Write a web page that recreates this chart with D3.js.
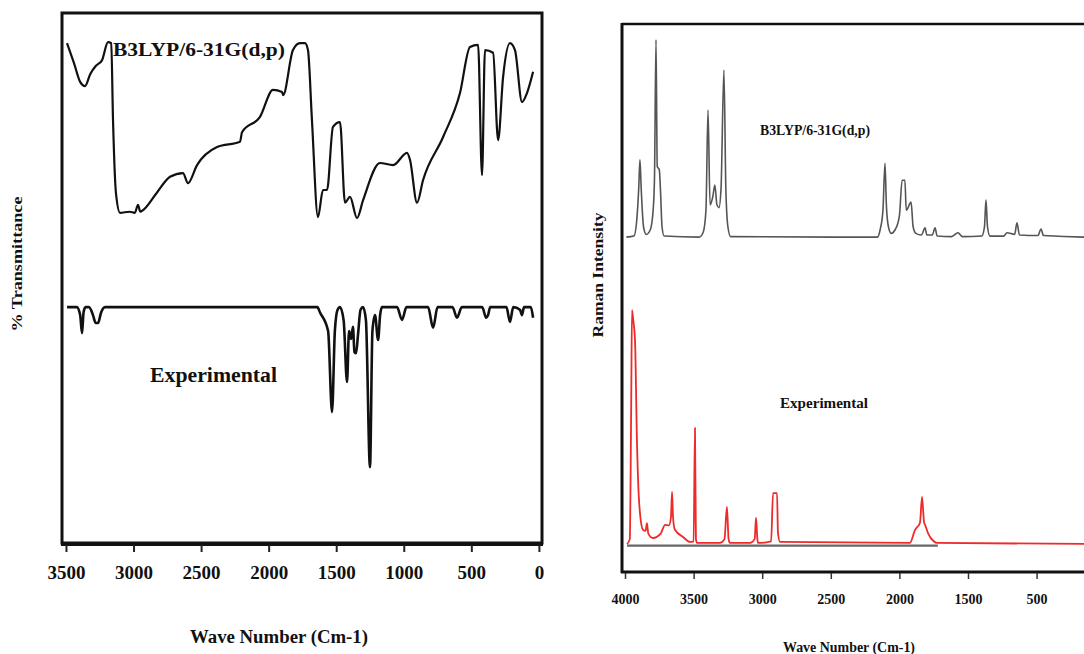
<!DOCTYPE html>
<html><head><meta charset="utf-8">
<script src="https://cdn.jsdelivr.net/npm/d3@7"></script>
<style>body{margin:0;background:#fff}svg{display:block}text{font-family:"Liberation Serif","Times New Roman",serif;font-weight:bold;fill:#111}</style>
</head><body><svg id="c" width="1084" height="654"></svg>
<script>
// ---- Data (wavenumber cm-1, relative value 0-100 of panel height) ----
const irTicks = [3500,3000,2500,2000,1500,1000,500,0];
const irTickLabels = ["3500","3000","2500","2000","1500","1000","500","0"];
const ramanTicks = [4000,3500,3000,2500,2000,1500,1000,500];
const ramanTickLabels = ["4000","3500","3000","2500","2000","1500","500","0"];

const irCalc = [[3492,94.3],[3440,90.5],[3395,87],[3359,86.2],[3320,88.5],[3280,90],[3233,91.1],[3189,94.5],[3165,94.3],[3152,80],[3130,66],[3100,62.3],[3030,62.5],[2990,62.3],[2967,63.8],[2950,62.5],[2930,62.8],[2830,66],[2730,69.1],[2634,69.8],[2597,67.9],[2530,71.3],[2382,74.7],[2212,75.7],[2197,77.5],[2064,80.4],[1968,85.5],[1901,85.1],[1893,84.5],[1820,93.0],[1768,94.3],[1731,94.3],[1709,93.0],[1680,80],[1635,61.5],[1598,66.6],[1568,66.6],[1524,78.5],[1472,79.4],[1435,64.2],[1398,65.3],[1346,61.3],[1301,64.7],[1176,71.7],[1079,71.3],[976,73.6],[954,72.3],[902,64.2],[857,68.5],[709,76.6],[584,84.9],[510,93.6],[450,94.0],[421,69.4],[399,93.0],[339,92.5],[302,76.0],[265,87.9],[214,94.3],[177,93.0],[125,83.2],[88,84.9],[43,88.9]];

const irExp = [[3492,44.5],[3420,44.5],[3395,43],[3381,39.6],[3370,43.5],[3355,44.5],[3330,44.5],[3300,43],[3280,41.5],[3263,41.5],[3240,43.5],[3211,44.5],[1640,44.5],[1620,43.5],[1560,40],[1531,24.7],[1510,40],[1490,44],[1472,44.5],[1445,42],[1420,30.4],[1405,40],[1390,38.5],[1376,40.8],[1365,36],[1353,35.8],[1339,39.2],[1320,44],[1301,44.5],[1280,42],[1250,14.3],[1232,40],[1213,43],[1190,38.3],[1175,43],[1161,44.5],[1050,44.5],[1013,42.1],[980,44.5],[820,44.5],[783,40.6],[750,44.5],[640,44.5],[606,42.5],[570,44.5],[420,44.5],[390,42.5],[376,43],[360,44.5],[240,44.5],[214,41.7],[190,44.5],[140,44],[125,43],[110,44.5],[60,44.5],[43,42.5]];

const ramanCalc = [[3990,61.1],[3935,61.3],[3915,64],[3900,70],[3891,75.2],[3882,70],[3865,63],[3845,61.6],[3815,62.5],[3795,66],[3785,72],[3774,97.1],[3765,74],[3750,73.4],[3742,70],[3730,63],[3715,61.3],[3460,61.1],[3430,62],[3410,66],[3395,84.3],[3380,67],[3360,68.5],[3345,70.6],[3330,67],[3315,66.5],[3300,70],[3279,91.6],[3265,70],[3250,63],[3230,61.2],[2160,61.1],[2140,62.5],[2120,66],[2105,74.6],[2095,67],[2080,63],[2060,61.8],[2030,62.5],[2000,65],[1980,71.5],[1960,71.5],[1950,66],[1915,67.5],[1900,63],[1880,61.8],[1840,61.5],[1813,62.8],[1800,61.5],[1760,61.5],[1740,62.8],[1725,61.3],[1620,61.2],[1573,61.9],[1540,61.2],[1400,61.3],[1380,63],[1369,67.9],[1358,63],[1340,61.3],[1240,61.3],[1216,61.9],[1160,61.6],[1143,63.7],[1125,61.5],[990,61.4],[968,62.6],[950,61.4],[600,61.1],[300,61.1]];

const ramanExpBase = [[3985,4.8],[1720,4.8]];
const ramanExp = [[3985,5.1],[3965,6],[3955,30],[3949,47.8],[3940,46],[3927,42.3],[3913,24.1],[3900,14],[3891,10.8],[3869,7.7],[3850,7.5],[3840,8.9],[3830,7],[3796,6.2],[3740,7],[3708,8.6],[3680,8.5],[3665,10],[3657,14.6],[3650,10],[3636,7.7],[3577,6.4],[3526,5.5],[3500,5.6],[3490,26.3],[3483,6],[3475,5.3],[3308,5.3],[3275,6],[3257,11.9],[3245,6],[3235,5.3],[3089,5.3],[3055,6],[3045,9.9],[3035,6],[3031,5.3],[2935,5.6],[2921,14.4],[2892,14.4],[2885,7.1],[2870,5.5],[1923,5.3],[1886,7.7],[1850,9],[1835,13.7],[1820,9],[1813,8.6],[1790,7],[1750,5.6],[1726,5.3],[500,5.1],[300,5.1]];

// ---- Drawing ----
const svg = d3.select("#c");
svg.append("rect").attr("width",1084).attr("height",654).attr("fill","#fff");

// Left panel (IR)
const L = {x0:62, x1:542, y0:13, y1:543};
const xL = d3.scaleLinear().domain([3522,-23]).range([63,542]);
const yL = d3.scaleLinear().domain([0,100]).range([L.y1, L.y0]);
const lineL = d3.line().x(d=>xL(d[0])).y(d=>yL(d[1])).curve(d3.curveMonotoneX);

svg.append("path").datum(irCalc).attr("d",lineL).attr("fill","none").attr("stroke","#111").attr("stroke-width",2.2).attr("stroke-linejoin","round");
svg.append("path").datum(irExp).attr("d",lineL).attr("fill","none").attr("stroke","#111").attr("stroke-width",2.6).attr("stroke-linejoin","round");

svg.append("rect").attr("x",L.x0).attr("y",L.y0).attr("width",L.x1-L.x0).attr("height",L.y1-L.y0)
  .attr("fill","none").attr("stroke","#111").attr("stroke-width",3);
svg.append("line").attr("x1",L.x0-1).attr("x2",L.x1+1).attr("y1",L.y1+1).attr("y2",L.y1+1).attr("stroke","#111").attr("stroke-width",4);

const axL = svg.append("g").attr("transform",`translate(0,${L.y1+2})`)
  .call(d3.axisBottom(xL).tickValues(irTicks).tickFormat((d,i)=>irTickLabels[i]).tickSize(7).tickPadding(14));
axL.select(".domain").remove();
axL.selectAll(".tick line").attr("stroke","#222").attr("stroke-width",2);
axL.selectAll(".tick text").style("font-size","19px").attr("fill","#111");

svg.append("text").attr("x",113).attr("y",56).style("font-size","19px")
  .attr("textLength",172).attr("lengthAdjust","spacingAndGlyphs").text("B3LYP/6-31G(d,p)");
svg.append("text").attr("x",150).attr("y",382).style("font-size","20px")
  .attr("textLength",127).attr("lengthAdjust","spacingAndGlyphs").text("Experimental");
svg.append("text").attr("x",279).attr("y",643).attr("text-anchor","middle").style("font-size","18px")
  .attr("textLength",178).attr("lengthAdjust","spacingAndGlyphs").text("Wave Number (Cm-1)");
svg.append("text").attr("transform","translate(22,264) rotate(-90)").attr("text-anchor","middle").style("font-size","15px")
  .attr("textLength",135).attr("lengthAdjust","spacingAndGlyphs").text("% Transmittance");

// Right panel (Raman)
const R = {x0:622, x1:1084, y0:24, y1:572};
const xR = d3.scaleLinear().domain([4000,0]).range([625,1173.8]);
const yR = d3.scaleLinear().domain([0,100]).range([R.y1, R.y0]);
const lineR = d3.line().x(d=>xR(d[0])).y(d=>yR(d[1])).curve(d3.curveMonotoneX);

svg.append("path").datum(ramanCalc).attr("d",lineR).attr("fill","none").attr("stroke","#555").attr("stroke-width",1.6).attr("stroke-linejoin","round");
svg.append("path").datum(ramanExpBase).attr("d",lineR).attr("fill","none").attr("stroke","#666").attr("stroke-width",2.2);
svg.append("path").datum(ramanExp).attr("d",lineR).attr("fill","none").attr("stroke","#ee2a2a").attr("stroke-width",1.8).attr("stroke-linejoin","round");

svg.append("line").attr("x1",R.x0).attr("x2",R.x1+5).attr("y1",R.y0).attr("y2",R.y0).attr("stroke","#111").attr("stroke-width",2.5);
svg.append("line").attr("x1",R.x0).attr("x2",R.x0).attr("y1",R.y0-1).attr("y2",R.y1+1).attr("stroke","#111").attr("stroke-width",3);
svg.append("line").attr("x1",R.x0-1).attr("x2",R.x1+5).attr("y1",R.y1).attr("y2",R.y1).attr("stroke","#111").attr("stroke-width",3);

const axR = svg.append("g").attr("transform",`translate(0,${R.y1+1})`)
  .call(d3.axisBottom(xR).tickValues(ramanTicks).tickFormat((d,i)=>ramanTickLabels[i]).tickSize(6).tickPadding(15));
axR.select(".domain").remove();
axR.selectAll(".tick line").attr("stroke","#333").attr("stroke-width",1.5);
axR.selectAll(".tick text").style("font-size","14px").attr("fill","#111");

svg.append("text").attr("x",760).attr("y",135).style("font-size","14px")
  .attr("textLength",110).attr("lengthAdjust","spacingAndGlyphs").text("B3LYP/6-31G(d,p)");
svg.append("text").attr("x",780).attr("y",408).style("font-size","15px")
  .attr("textLength",88).attr("lengthAdjust","spacingAndGlyphs").text("Experimental");
svg.append("text").attr("x",849).attr("y",652).attr("text-anchor","middle").style("font-size","14px")
  .attr("textLength",132).attr("lengthAdjust","spacingAndGlyphs").text("Wave Number (Cm-1)");
svg.append("text").attr("transform","translate(603,275) rotate(-90)").attr("text-anchor","middle").style("font-size","14px")
  .attr("textLength",125).attr("lengthAdjust","spacingAndGlyphs").text("Raman Intensity");
</script></body></html>
